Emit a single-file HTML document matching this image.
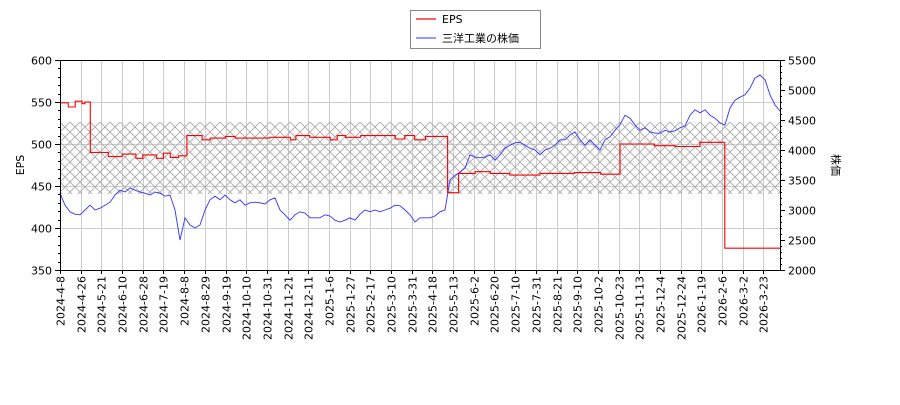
<!DOCTYPE html>
<html><head><meta charset="utf-8">
<style>
body{margin:0;background:#fff;}
svg text{font-family:"DejaVu Sans","Liberation Sans","Noto Sans CJK JP",sans-serif;font-size:11px;fill:#000;}
</style></head>
<body>
<svg id="chart" width="900" height="400" xmlns="http://www.w3.org/2000/svg">
<defs>
<pattern id="hatch" width="10" height="10" patternUnits="userSpaceOnUse" x="60" y="122">
<path d="M0,0 L10,10 M10,0 L0,10" stroke="#aaa" stroke-width="0.9"/>
</pattern>
</defs>
<g id="grid"></g>
<rect x="60" y="122" width="720" height="72" fill="url(#hatch)"/>
<g id="series"></g>
<g id="axes"></g>
<g>
<rect x="410.5" y="10.5" width="130" height="38" fill="#fff" stroke="#888"/>
<line x1="416" y1="19" x2="436" y2="19" stroke="#f00" stroke-width="1.2"/>
<text x="442" y="23">EPS</text>
<line x1="416" y1="38" x2="436" y2="38" stroke="#33f" stroke-width="1"/>
<text x="442" y="42">三洋工業の株価</text>
</g>
</svg>
<script>
const tickLabels=["2024-4-8","2024-4-26","2024-5-21","2024-6-10","2024-6-28","2024-7-19","2024-8-8","2024-8-29","2024-9-19","2024-10-10","2024-10-31","2024-11-21","2024-12-11","2025-1-6","2025-1-27","2025-2-17","2025-3-10","2025-3-31","2025-4-18","2025-5-13","2025-6-2","2025-6-20","2025-7-10","2025-7-31","2025-8-21","2025-9-10","2025-10-2","2025-10-23","2025-11-13","2025-12-4","2025-12-24","2026-1-19","2026-2-6","2026-3-2","2026-3-23"];
const leftTicks=[350,400,450,500,550,600];
const rightTicks=[2000,2500,3000,3500,4000,4500,5000,5500];
const priceValues=[3280,3080,2970,2930,2920,3000,3080,3000,3030,3080,3130,3250,3330,3300,3370,3330,3300,3280,3250,3300,3280,3230,3250,3000,2500,2870,2750,2700,2750,3000,3170,3230,3170,3250,3170,3120,3170,3080,3120,3130,3120,3100,3170,3200,3000,2920,2830,2920,2970,2950,2870,2870,2870,2920,2900,2830,2800,2830,2870,2830,2930,3000,2970,3000,2970,3000,3030,3080,3070,3000,2920,2800,2870,2870,2870,2900,2970,3000,3500,3580,3630,3700,3920,3880,3870,3880,3920,3830,3920,4030,4080,4120,4130,4080,4030,4000,3920,4000,4030,4080,4170,4170,4250,4300,4170,4080,4170,4080,4000,4170,4220,4330,4420,4580,4530,4420,4330,4370,4300,4280,4280,4330,4300,4320,4370,4400,4580,4670,4620,4670,4580,4530,4450,4420,4700,4830,4880,4920,5030,5200,5250,5170,4920,4750,4650];
const epsStartDays=[0,6,11,16,18,22,35,45,55,60,70,75,80,86,92,103,109,120,127,152,167,171,181,196,201,207,218,243,250,257,265,281,289,301,312,326,348,373,392,406,431,446,464,482];
const epsValues=[549,544,551,548,550,490,485,488,483,487,483,489,484,486,510,505,507,509,507,508,505,510,508,505,510,508,510,506,510,505,509,442,465,467,465,463,465,466,464,500,498,497,502,376];
const totalDays=522;

const NS="http://www.w3.org/2000/svg";
const X0=60,X1=780,Y0=270,Y1=60;
const xDay=d=>X0+(d/totalDays)*(X1-X0);
const yL=v=>Y0-(v-350)/(600-350)*(Y0-Y1);
const yR=v=>Y0-(v-2000)/(5500-2000)*(Y0-Y1);
function mk(tag,attrs,parent){const e=document.createElementNS(NS,tag);for(const k in attrs)e.setAttribute(k,attrs[k]);parent.appendChild(e);return e;}
const grid=document.getElementById('grid'),axes=document.getElementById('axes'),series=document.getElementById('series');

tickLabels.forEach((t,i)=>{
  const x=Math.round(xDay(i*15))+0.5;
  const gl=mk('line',{x1:x,y1:Y1,x2:x,y2:Y0,stroke:'#ccc'},grid);
  
  
  mk('line',{x1:x,y1:Y0,x2:x,y2:Y0+4,stroke:'#000'},axes);
  const tx=mk('text',{transform:`translate(${x+4},${Y0+6}) rotate(-90)`,'text-anchor':'end'},axes);
  tx.textContent=t;
  
  
});
leftTicks.forEach(v=>{
  const y=Math.round(yL(v))+0.5;
  const gl=mk('line',{x1:X0,y1:y,x2:X1,y2:y,stroke:'#ccc'},grid);
  
  
  mk('line',{x1:X0-5,y1:y,x2:X0,y2:y,stroke:'#000'},axes);
  const tx=mk('text',{x:X0-8,y:y+4,'text-anchor':'end'},axes);
  tx.textContent=v;
  
  
});
for(let v=350;v<=600;v+=10){const y=Math.round(yL(v))+0.5;mk('line',{x1:X0-2,y1:y,x2:X0,y2:y,stroke:'#000'},axes);}
rightTicks.forEach(v=>{
  const y=Math.round(yR(v))+0.5;
  mk('line',{x1:X1,y1:y,x2:X1+5,y2:y,stroke:'#000'},axes);
  const tx=mk('text',{x:X1+8,y:y+4},axes);
  tx.textContent=v;
  
  
});
for(let v=2000;v<=5500;v+=100){const y=Math.round(yR(v))+0.5;mk('line',{x1:X1,y1:y,x2:X1+2,y2:y,stroke:'#000'},axes);}
mk('rect',{x:X0+0.5,y:Y1+0.5,width:X1-X0,height:Y0-Y1,fill:'none',stroke:'#000'},axes);
const yt=mk('text',{transform:`translate(24,165) rotate(-90)`,'text-anchor':'middle'},axes);
yt.textContent='EPS';


const yt2=mk('text',{transform:`translate(832,165) rotate(90)`,'text-anchor':'middle'},axes);
yt2.textContent='株価';



let pts=priceValues.map((v,i)=>`${xDay(i*totalDays/(priceValues.length-1)).toFixed(1)},${yR(v).toFixed(1)}`).join(' ');
const pl=mk('polyline',{points:pts,fill:'none',stroke:'#33f','stroke-width':0.9},series);


let ep=[];
epsStartDays.forEach((d,i)=>{
  const end=i<epsStartDays.length-1?epsStartDays[i+1]:totalDays;
  ep.push(`${xDay(d).toFixed(1)},${yL(epsValues[i]).toFixed(1)}`);
  ep.push(`${xDay(end).toFixed(1)},${yL(epsValues[i]).toFixed(1)}`);
});
const el=mk('polyline',{points:ep.join(' '),fill:'none',stroke:'#f00','stroke-width':1.1},series);


</script>
</body></html>
